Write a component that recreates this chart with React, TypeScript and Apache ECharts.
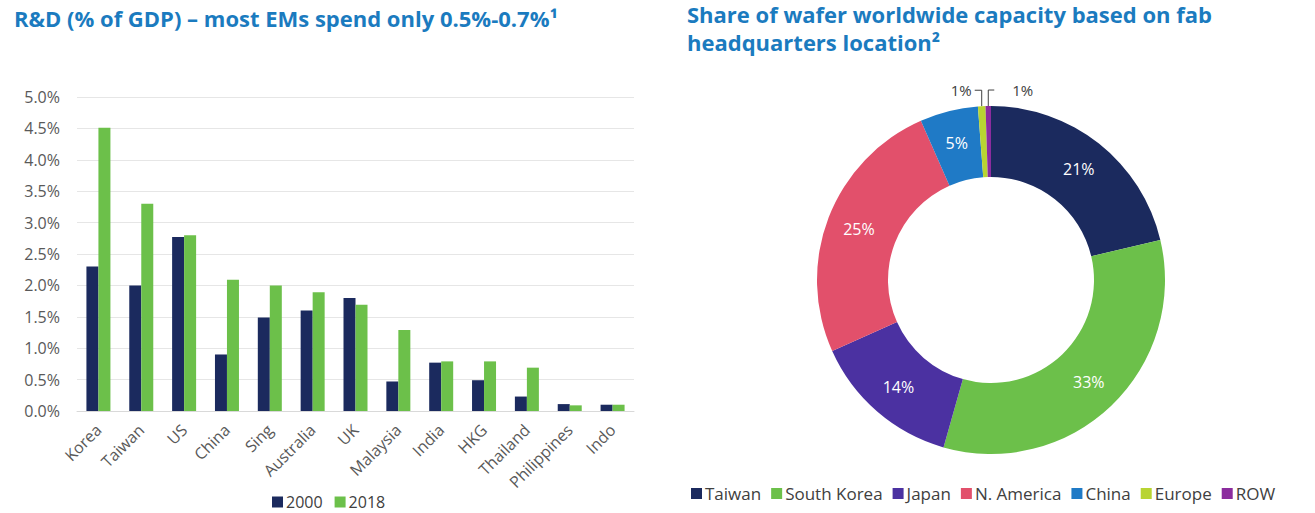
import React, { useEffect, useRef } from "react";
import * as echarts from "echarts";

const countries = ["Korea", "Taiwan", "US", "China", "Sing", "Australia", "UK", "Malaysia", "India", "HKG", "Thailand", "Philippines", "Indo"];
const rd2000 = [2.3, 2.0, 2.77, 0.9, 1.49, 1.6, 1.8, 0.47, 0.77, 0.49, 0.23, 0.11, 0.1];
const rd2018 = [4.51, 3.3, 2.8, 2.09, 2.0, 1.89, 1.69, 1.29, 0.79, 0.79, 0.69, 0.09, 0.1];
const yTicks = { min: 0, max: 5, interval: 0.5 };

const regions = ["Taiwan", "South Korea", "Japan", "N. America", "China", "Europe", "ROW"];
const shares = [21.3, 33.1, 13.9, 25.1, 5.4, 0.7, 0.5];
const regionColors = ["#1b2a5e", "#6cc04a", "#4b31a1", "#e2506b", "#1f7ac6", "#b8d432", "#8b2c9e"];

const TITLE_BLUE = "#1b7bbf";
const FONT = "'Open Sans', 'Noto Sans', sans-serif";
const titleStyle = { color: TITLE_BLUE, fontSize: 22, fontWeight: "bold", fontFamily: FONT };

export default function App() {
  const ref = useRef<HTMLDivElement>(null);
  useEffect(() => {
    if (!ref.current) return;
    const chart = echarts.init(ref.current, undefined, { renderer: "svg" });
    chart.setOption({
      animation: false,
      backgroundColor: "#ffffff",
      textStyle: { fontFamily: FONT },
      title: [
        {
          text: "R&D (% of GDP) – most EMs spend only 0.5%-0.7%¹",
          left: 9,
          top: 2,
          textStyle: titleStyle,
        },
        {
          text: "Share of wafer worldwide capacity based on fab",
          left: 682,
          top: -2,
          textStyle: titleStyle,
        },
        {
          text: "headquarters location²",
          left: 682,
          top: 26,
          textStyle: titleStyle,
        },
      ],
      legend: [
        {
          data: ["2000", "2018"],
          left: 267,
          top: 489,
          icon: "rect",
          itemWidth: 11,
          itemHeight: 11,
          itemGap: 12,
          textStyle: { color: "#404040", fontSize: 16, fontFamily: FONT, padding: [0, 0, 0, -2] },
        },
        {
          data: regions,
          left: 686,
          top: 480,
          icon: "rect",
          itemWidth: 11,
          itemHeight: 11,
          itemGap: 10,
          textStyle: { color: "#404040", fontSize: 17, fontFamily: FONT, padding: [0, 0, 0, -2] },
        },
      ],
      grid: { left: 77, right: 681, top: 97, bottom: 102, containLabel: false },
      xAxis: {
        type: "category",
        data: countries,
        axisTick: { show: false },
        axisLine: { show: true, lineStyle: { color: "#d9d9d9" } },
        axisLabel: { rotate: 45, color: "#595959", fontSize: 16, margin: 16, interval: 0, fontFamily: FONT },
      },
      yAxis: {
        type: "value",
        min: yTicks.min,
        max: yTicks.max,
        interval: yTicks.interval,
        axisLine: { show: false },
        axisTick: { show: false },
        splitLine: { lineStyle: { color: "#e6e6e6" } },
        axisLabel: {
          color: "#595959",
          fontSize: 16,
          margin: 17,
          fontFamily: FONT,
          formatter: (v: number) => v.toFixed(1) + "%",
        },
      },
      series: [
        {
          name: "2000",
          type: "bar",
          data: rd2000,
          barWidth: 12,
          barGap: "0%",
          itemStyle: { color: "#1b2a5e" },
        },
        {
          name: "2018",
          type: "bar",
          data: rd2018,
          barWidth: 12,
          barGap: "0%",
          itemStyle: { color: "#6cc04a" },
        },
        {
          name: "share",
          type: "pie",
          center: [991, 280],
          radius: [103, 174],
          startAngle: 90,
          clockwise: true,
          avoidLabelOverlap: false,
          data: regions.map((r, i) => ({
            name: r,
            value: shares[i],
            itemStyle: { color: regionColors[i] },
            label:
              i >= 5
                ? { show: true, position: "outside", color: "#404040", fontSize: 15 }
                : { show: true, position: "inside", color: "#ffffff", fontSize: 16 },
            labelLine: i >= 5 ? { show: true, length: 14, length2: 10, lineStyle: { color: "#404040", width: 1 } } : { show: false },
          })),
          label: {
            fontFamily: FONT,
            formatter: (p: any) => Math.round(p.value) + "%",
          },
          labelLayout: (params: any) => {
            if (params.dataIndex < 5 || !params.labelLinePoints) return {};
            const p0 = params.labelLinePoints[0];
            const up = p0[1] - 16;
            if (params.dataIndex === 5) {
              const x2 = p0[0] - 7;
              return {
                x: x2 - 3,
                y: up,
                align: "right",
                verticalAlign: "middle",
                labelLinePoints: [p0, [p0[0], up], [x2, up]],
              };
            }
            const x2 = p0[0] + 6;
            return {
              x: x2 + 18,
              y: up,
              align: "left",
              verticalAlign: "middle",
              labelLinePoints: [p0, [p0[0], up], [x2, up]],
            };
          },
        },
      ],
    });
    return () => chart.dispose();
  }, []);
  return <div ref={ref} style={{ position: "fixed", left: 0, top: 0, width: 1315, height: 513 }} />;
}
